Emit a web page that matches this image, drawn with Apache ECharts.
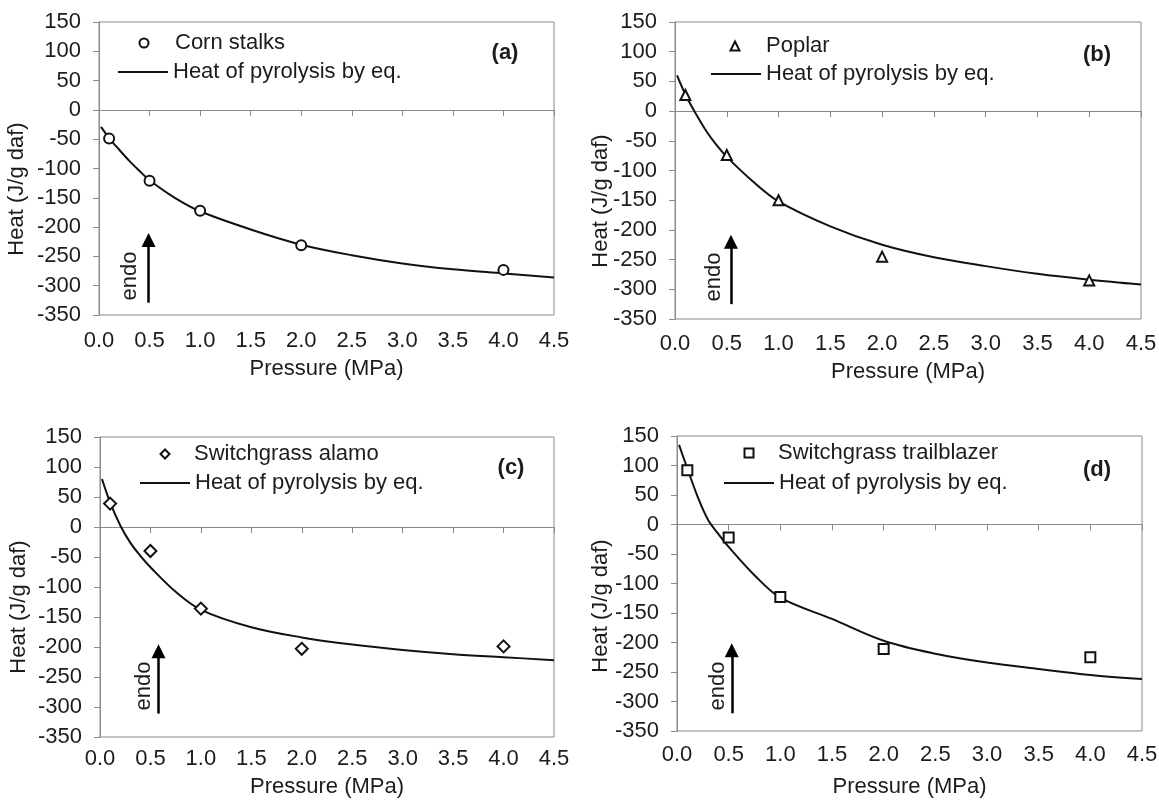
<!DOCTYPE html>
<html><head><meta charset="utf-8">
<script src="https://cdn.jsdelivr.net/npm/echarts@6/dist/echarts.min.js"></script>
<style>html,body{margin:0;padding:0;background:#fff}#c{width:1159px;height:801px}</style>
</head><body><div id="c"></div>
<script>
// ---------- data ----------
const pressures = [0.1, 0.5, 1.0, 2.0, 4.0];
const cornStalks = [-49, -121, -172, -231, -273];
const poplar = [27, -74, -150, -245, -285];
const alamo = [39, -40, -136, -203, -199];
const trailblazer = [92, -22, -123, -211, -225];

const curveP = [0.02, 0.1, 0.2, 0.3, 0.4, 0.5, 0.75, 1.0, 1.5, 2.0, 2.5, 3.0, 3.5, 4.0, 4.5];
const cornCurve = [-29, -48, -68, -87, -104, -120, -150, -173, -204, -230, -248, -262, -272, -279, -286];
const poplarCurve = [60, 28, -4, -33, -57, -77, -118, -152, -194, -225, -246, -261, -274, -284, -292];
const alamoCurve = [80, 41, 3, -26, -48, -67, -108, -138, -167, -184, -196, -205, -212, -217, -222];
const trailCurve = [135, 95, 47, 8, -16, -38, -86, -124, -160, -197, -219, -234, -245, -255, -262];

const seriesNames = ['Corn stalks', 'Poplar', 'Switchgrass alamo', 'Switchgrass trailblazer'];
const lineName = 'Heat of pyrolysis by eq.';
const panelTags = ['(a)', '(b)', '(c)', '(d)'];
const xTitle = 'Pressure (MPa)';
const yTitle = 'Heat (J/g daf)';
const arrowText = 'endo';
const arrowP = [0.49, 0.54, 0.58, 0.53];
const arrowFrom = [-329, -325, -311, -320];
const arrowTo = [-222, -220, -207, -213];

const xMin = 0, xMax = 4.5, xStep = 0.5;
const yMin = -350, yMax = 150, yStep = 50;

// ---------- layout / style ----------
const pointSets = [cornStalks, poplar, alamo, trailblazer];
const curveSets = [cornCurve, poplarCurve, alamoCurve, trailCurve];
const symbols = ['circle', 'triangle', 'diamond', 'rect'];
const symbolSizes = [10, 10, 12, 10];
const panels = [
  {left: 99, top: 22, width: 455, height: 293, xMargin: 15, nameGap: 43,
   mk: [143, 43], txtX: 174, lineL: 118, lineT: 61, yT: [17, 189], endo: [130, 276], tag: [505, 53]},
  {left: 675, top: 22, width: 466, height: 297, xMargin: 14, nameGap: 42,
   mk: [734, 46], txtX: 765, lineL: 711, lineT: 63, yT: [601, 201], endo: [714, 277], tag: [1097, 55]},
  {left: 100, top: 437, width: 454, height: 300, xMargin: 11, nameGap: 39,
   mk: [164, 454], txtX: 193, lineL: 140, lineT: 472, yT: [19, 607], endo: [144, 686], tag: [511, 468]},
  {left: 677, top: 436, width: 465, height: 295, xMargin: 13, nameGap: 45,
   mk: [748, 453], txtX: 777, lineL: 724, lineT: 472, yT: [601, 606], endo: [718, 686], tag: [1097, 470]}
];
const FONT = '"Liberation Sans", Arial, Helvetica, sans-serif';
const TXT = '#1c1c1c';
const GRAY = '#8a8a8a';
const FS = 22;
const MK = 9;

const grid = [], xAxis = [], yAxis = [], series = [], legend = [], graphic = [];
panels.forEach((p, i) => {
  grid.push({left: p.left, top: p.top, width: p.width, height: p.height,
    show: true, borderColor: GRAY, borderWidth: 1, backgroundColor: 'transparent',
    containLabel: false, outerBoundsMode: 'none'});
  xAxis.push({gridIndex: i, type: 'value', min: xMin, max: xMax, interval: xStep, position: 'bottom',
    axisLine: {show: false, onZero: false}, axisTick: {show: false}, splitLine: {show: false},
    axisLabel: {margin: p.xMargin, fontSize: FS, color: TXT, fontFamily: FONT,
      formatter: v => v.toFixed(1)},
    name: xTitle, nameLocation: 'middle', nameGap: p.nameGap,
    nameTextStyle: {fontSize: FS, color: TXT, fontFamily: FONT}});
  xAxis.push({gridIndex: i, type: 'value', min: xMin, max: xMax, interval: xStep, position: 'bottom',
    axisLine: {show: true, onZero: true, onZeroAxisIndex: i, lineStyle: {color: GRAY, width: 1}},
    axisTick: {show: true, inside: false, length: 6, lineStyle: {color: GRAY}},
    axisLabel: {show: false}, splitLine: {show: false}});
  yAxis.push({gridIndex: i, type: 'value', min: yMin, max: yMax, interval: yStep,
    axisLine: {show: true, onZero: false, lineStyle: {color: GRAY, width: 1}},
    axisTick: {show: true, length: 6, lineStyle: {color: GRAY}},
    axisLabel: {margin: 18, fontSize: FS, color: TXT, fontFamily: FONT},
    splitLine: {show: false}});

  series.push({
    name: seriesNames[i], type: 'scatter', xAxisIndex: 2 * i, yAxisIndex: i,
    symbol: symbols[i], symbolSize: symbolSizes[i], z: 5,
    itemStyle: {color: '#ffffff', borderColor: '#111', borderWidth: 2, opacity: 1},
    data: pressures.map((x, k) => [x, pointSets[i][k]])
  });
  series.push({
    name: lineName, type: 'line', xAxisIndex: 2 * i, yAxisIndex: i,
    smooth: 0.35, symbol: 'none', showSymbol: false, z: 3,
    color: '#111', lineStyle: {color: '#111', width: 2},
    data: curveP.map((x, k) => [x, curveSets[i][k]]),
    markLine: {
      silent: true, animation: false,
      symbol: ['none', 'triangle'], symbolSize: 14,
      lineStyle: {color: '#000', width: 2.5, type: 'solid'},
      itemStyle: {color: '#000'},
      label: {show: false},
      emphasis: {disabled: true},
      data: [[{coord: [arrowP[i], arrowFrom[i]]}, {coord: [arrowP[i], arrowTo[i]]}]]
    }
  });
  // marker legend row: square icon box, text pushed right by padding
  legend.push({
    orient: 'vertical', left: p.mk[0] - MK / 2, top: p.mk[1] - 11, padding: 0,
    itemWidth: MK, itemHeight: MK, selectedMode: false,
    data: [{name: seriesNames[i], icon: symbols[i]}],
    textStyle: {fontSize: FS, color: TXT, fontFamily: FONT,
      padding: [0, 0, 0, p.txtX - (p.mk[0] + MK / 2 + 5)]}
  });
  // line legend row
  legend.push({
    orient: 'vertical', left: p.lineL, top: p.lineT, padding: 0,
    itemWidth: 50, itemHeight: 2, selectedMode: false,
    data: [{name: lineName, icon: 'rect', itemStyle: {color: '#111', borderWidth: 0}}],
    textStyle: {fontSize: FS, color: TXT, fontFamily: FONT}
  });
  graphic.push({type: 'text', x: p.yT[0], y: p.yT[1], rotation: Math.PI / 2,
    style: {text: yTitle, fontSize: FS, fontFamily: FONT, fill: TXT, align: 'center', verticalAlign: 'middle'}});
  graphic.push({type: 'text', x: p.endo[0], y: p.endo[1], rotation: Math.PI / 2,
    style: {text: arrowText, fontSize: FS, fontFamily: FONT, fill: TXT, align: 'center', verticalAlign: 'middle'}});
  graphic.push({type: 'text', x: p.tag[0], y: p.tag[1],
    style: {text: panelTags[i], fontSize: FS, fontWeight: 'bold', fontFamily: FONT, fill: TXT, align: 'center', verticalAlign: 'middle'}});
});

const chart = echarts.init(document.getElementById('c'), null, {renderer: 'canvas'});
chart.setOption({
  backgroundColor: '#ffffff',
  animation: false,
  textStyle: {fontFamily: FONT},
  grid, xAxis, yAxis, series, legend, graphic
});
</script>
</body></html>
